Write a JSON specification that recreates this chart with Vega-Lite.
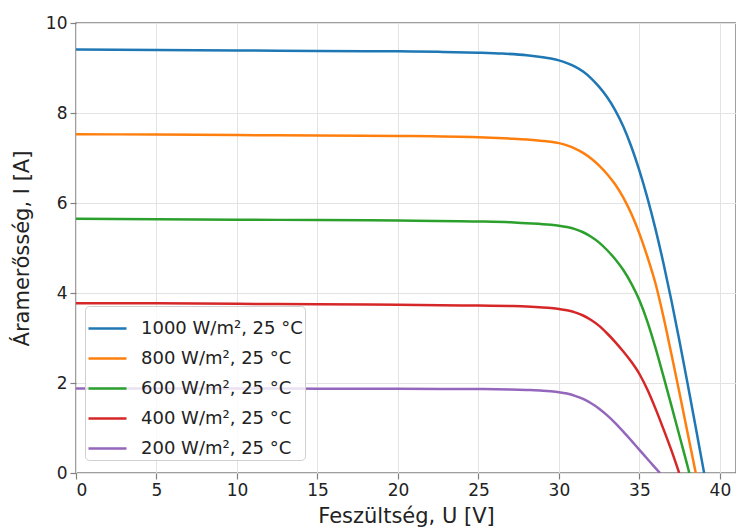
{
  "$schema": "https://vega.github.io/schema/vega-lite/v6.json",
  "width": 660,
  "height": 450,
  "autosize": "none",
  "padding": {"left": 76, "top": 23, "right": 0, "bottom": 58},
  "background": "white",
  "config": {
    "font": "DejaVu Sans",
    "view": {"stroke": "#808080", "strokeWidth": 1.5},
    "axis": {
      "domain": false,
      "grid": true,
      "gridColor": "#e3e3e3",
      "gridWidth": 1,
      "tickColor": "#808080",
      "tickSize": 6,
      "tickWidth": 1.2,
      "labelFont": "DejaVu Sans",
      "labelFontSize": 17,
      "labelColor": "#222222",
      "labelPadding": 3,
      "titleFont": "DejaVu Sans",
      "titleFontSize": 21,
      "titleFontWeight": "normal",
      "titleColor": "#222222"
    },
    "legend": {
      "fillColor": "rgba(255,255,255,0.8)",
      "strokeColor": "#d0d0d0",
      "cornerRadius": 4,
      "padding": 2,
      "labelFont": "DejaVu Sans",
      "labelFontSize": 18,
      "labelColor": "#222222",
      "labelLimit": 400
    }
  },
  "data": {
    "values": [
      {"s": "1000 W/m², 25 °C", "U": 0, "I": 9.41},
      {"s": "1000 W/m², 25 °C", "U": 5, "I": 9.40},
      {"s": "1000 W/m², 25 °C", "U": 10, "I": 9.39},
      {"s": "1000 W/m², 25 °C", "U": 15, "I": 9.38},
      {"s": "1000 W/m², 25 °C", "U": 20, "I": 9.37},
      {"s": "1000 W/m², 25 °C", "U": 22.5, "I": 9.36},
      {"s": "1000 W/m², 25 °C", "U": 25, "I": 9.34},
      {"s": "1000 W/m², 25 °C", "U": 26.5, "I": 9.32},
      {"s": "1000 W/m², 25 °C", "U": 28, "I": 9.285},
      {"s": "1000 W/m², 25 °C", "U": 29, "I": 9.24},
      {"s": "1000 W/m², 25 °C", "U": 29.5, "I": 9.21},
      {"s": "1000 W/m², 25 °C", "U": 30, "I": 9.17},
      {"s": "1000 W/m², 25 °C", "U": 30.5, "I": 9.11},
      {"s": "1000 W/m², 25 °C", "U": 31, "I": 9.03},
      {"s": "1000 W/m², 25 °C", "U": 31.5, "I": 8.92},
      {"s": "1000 W/m², 25 °C", "U": 32, "I": 8.77},
      {"s": "1000 W/m², 25 °C", "U": 32.5, "I": 8.58},
      {"s": "1000 W/m², 25 °C", "U": 33, "I": 8.35},
      {"s": "1000 W/m², 25 °C", "U": 33.5, "I": 8.06},
      {"s": "1000 W/m², 25 °C", "U": 34, "I": 7.70},
      {"s": "1000 W/m², 25 °C", "U": 34.5, "I": 7.25},
      {"s": "1000 W/m², 25 °C", "U": 35, "I": 6.72},
      {"s": "1000 W/m², 25 °C", "U": 35.5, "I": 6.11},
      {"s": "1000 W/m², 25 °C", "U": 36, "I": 5.42},
      {"s": "1000 W/m², 25 °C", "U": 36.5, "I": 4.65},
      {"s": "1000 W/m², 25 °C", "U": 37, "I": 3.81},
      {"s": "1000 W/m², 25 °C", "U": 37.5, "I": 2.91},
      {"s": "1000 W/m², 25 °C", "U": 38, "I": 1.97},
      {"s": "1000 W/m², 25 °C", "U": 38.5, "I": 1.01},
      {"s": "1000 W/m², 25 °C", "U": 39.02, "I": 0},

      {"s": "800 W/m², 25 °C", "U": 0, "I": 7.53},
      {"s": "800 W/m², 25 °C", "U": 5, "I": 7.52},
      {"s": "800 W/m², 25 °C", "U": 10, "I": 7.51},
      {"s": "800 W/m², 25 °C", "U": 15, "I": 7.50},
      {"s": "800 W/m², 25 °C", "U": 20, "I": 7.49},
      {"s": "800 W/m², 25 °C", "U": 25, "I": 7.46},
      {"s": "800 W/m², 25 °C", "U": 27, "I": 7.43},
      {"s": "800 W/m², 25 °C", "U": 28, "I": 7.41},
      {"s": "800 W/m², 25 °C", "U": 29, "I": 7.38},
      {"s": "800 W/m², 25 °C", "U": 29.5, "I": 7.36},
      {"s": "800 W/m², 25 °C", "U": 30, "I": 7.33},
      {"s": "800 W/m², 25 °C", "U": 30.5, "I": 7.28},
      {"s": "800 W/m², 25 °C", "U": 31, "I": 7.21},
      {"s": "800 W/m², 25 °C", "U": 31.5, "I": 7.115},
      {"s": "800 W/m², 25 °C", "U": 32, "I": 6.99},
      {"s": "800 W/m², 25 °C", "U": 32.5, "I": 6.83},
      {"s": "800 W/m², 25 °C", "U": 33, "I": 6.64},
      {"s": "800 W/m², 25 °C", "U": 33.5, "I": 6.41},
      {"s": "800 W/m², 25 °C", "U": 34, "I": 6.12},
      {"s": "800 W/m², 25 °C", "U": 34.5, "I": 5.76},
      {"s": "800 W/m², 25 °C", "U": 35, "I": 5.32},
      {"s": "800 W/m², 25 °C", "U": 35.5, "I": 4.80},
      {"s": "800 W/m², 25 °C", "U": 36, "I": 4.21},
      {"s": "800 W/m², 25 °C", "U": 36.5, "I": 3.46},
      {"s": "800 W/m², 25 °C", "U": 37, "I": 2.62},
      {"s": "800 W/m², 25 °C", "U": 37.5, "I": 1.76},
      {"s": "800 W/m², 25 °C", "U": 38, "I": 0.88},
      {"s": "800 W/m², 25 °C", "U": 38.5, "I": 0},

      {"s": "600 W/m², 25 °C", "U": 0, "I": 5.65},
      {"s": "600 W/m², 25 °C", "U": 5, "I": 5.64},
      {"s": "600 W/m², 25 °C", "U": 10, "I": 5.63},
      {"s": "600 W/m², 25 °C", "U": 15, "I": 5.62},
      {"s": "600 W/m², 25 °C", "U": 20, "I": 5.61},
      {"s": "600 W/m², 25 °C", "U": 25, "I": 5.59},
      {"s": "600 W/m², 25 °C", "U": 27, "I": 5.57},
      {"s": "600 W/m², 25 °C", "U": 28, "I": 5.55},
      {"s": "600 W/m², 25 °C", "U": 29, "I": 5.53},
      {"s": "600 W/m², 25 °C", "U": 29.5, "I": 5.515},
      {"s": "600 W/m², 25 °C", "U": 30, "I": 5.495},
      {"s": "600 W/m², 25 °C", "U": 30.5, "I": 5.465},
      {"s": "600 W/m², 25 °C", "U": 31, "I": 5.42},
      {"s": "600 W/m², 25 °C", "U": 31.5, "I": 5.35},
      {"s": "600 W/m², 25 °C", "U": 32, "I": 5.25},
      {"s": "600 W/m², 25 °C", "U": 32.5, "I": 5.12},
      {"s": "600 W/m², 25 °C", "U": 33, "I": 4.95},
      {"s": "600 W/m², 25 °C", "U": 33.5, "I": 4.75},
      {"s": "600 W/m², 25 °C", "U": 34, "I": 4.51},
      {"s": "600 W/m², 25 °C", "U": 34.5, "I": 4.21},
      {"s": "600 W/m², 25 °C", "U": 35, "I": 3.84},
      {"s": "600 W/m², 25 °C", "U": 35.5, "I": 3.36},
      {"s": "600 W/m², 25 °C", "U": 36, "I": 2.78},
      {"s": "600 W/m², 25 °C", "U": 36.5, "I": 2.14},
      {"s": "600 W/m², 25 °C", "U": 37, "I": 1.48},
      {"s": "600 W/m², 25 °C", "U": 37.5, "I": 0.81},
      {"s": "600 W/m², 25 °C", "U": 38, "I": 0.14},
      {"s": "600 W/m², 25 °C", "U": 38.1, "I": 0},

      {"s": "400 W/m², 25 °C", "U": 0, "I": 3.77},
      {"s": "400 W/m², 25 °C", "U": 5, "I": 3.77},
      {"s": "400 W/m², 25 °C", "U": 10, "I": 3.76},
      {"s": "400 W/m², 25 °C", "U": 15, "I": 3.75},
      {"s": "400 W/m², 25 °C", "U": 20, "I": 3.74},
      {"s": "400 W/m², 25 °C", "U": 25, "I": 3.72},
      {"s": "400 W/m², 25 °C", "U": 27, "I": 3.71},
      {"s": "400 W/m², 25 °C", "U": 28, "I": 3.70},
      {"s": "400 W/m², 25 °C", "U": 29, "I": 3.68},
      {"s": "400 W/m², 25 °C", "U": 29.5, "I": 3.665},
      {"s": "400 W/m², 25 °C", "U": 30, "I": 3.645},
      {"s": "400 W/m², 25 °C", "U": 30.5, "I": 3.615},
      {"s": "400 W/m², 25 °C", "U": 31, "I": 3.57},
      {"s": "400 W/m², 25 °C", "U": 31.5, "I": 3.50},
      {"s": "400 W/m², 25 °C", "U": 32, "I": 3.40},
      {"s": "400 W/m², 25 °C", "U": 32.5, "I": 3.27},
      {"s": "400 W/m², 25 °C", "U": 33, "I": 3.10},
      {"s": "400 W/m², 25 °C", "U": 33.5, "I": 2.91},
      {"s": "400 W/m², 25 °C", "U": 34, "I": 2.70},
      {"s": "400 W/m², 25 °C", "U": 34.5, "I": 2.47},
      {"s": "400 W/m², 25 °C", "U": 35, "I": 2.20},
      {"s": "400 W/m², 25 °C", "U": 35.5, "I": 1.85},
      {"s": "400 W/m², 25 °C", "U": 36, "I": 1.43},
      {"s": "400 W/m², 25 °C", "U": 36.5, "I": 0.97},
      {"s": "400 W/m², 25 °C", "U": 37, "I": 0.49},
      {"s": "400 W/m², 25 °C", "U": 37.47, "I": 0},

      {"s": "200 W/m², 25 °C", "U": 0, "I": 1.88},
      {"s": "200 W/m², 25 °C", "U": 5, "I": 1.88},
      {"s": "200 W/m², 25 °C", "U": 10, "I": 1.88},
      {"s": "200 W/m², 25 °C", "U": 15, "I": 1.875},
      {"s": "200 W/m², 25 °C", "U": 20, "I": 1.87},
      {"s": "200 W/m², 25 °C", "U": 25, "I": 1.865},
      {"s": "200 W/m², 25 °C", "U": 27, "I": 1.855},
      {"s": "200 W/m², 25 °C", "U": 28, "I": 1.845},
      {"s": "200 W/m², 25 °C", "U": 29, "I": 1.83},
      {"s": "200 W/m², 25 °C", "U": 29.5, "I": 1.815},
      {"s": "200 W/m², 25 °C", "U": 30, "I": 1.795},
      {"s": "200 W/m², 25 °C", "U": 30.5, "I": 1.765},
      {"s": "200 W/m², 25 °C", "U": 31, "I": 1.715},
      {"s": "200 W/m², 25 °C", "U": 31.5, "I": 1.645},
      {"s": "200 W/m², 25 °C", "U": 32, "I": 1.55},
      {"s": "200 W/m², 25 °C", "U": 32.5, "I": 1.43},
      {"s": "200 W/m², 25 °C", "U": 33, "I": 1.28},
      {"s": "200 W/m², 25 °C", "U": 33.5, "I": 1.11},
      {"s": "200 W/m², 25 °C", "U": 34, "I": 0.92},
      {"s": "200 W/m², 25 °C", "U": 34.5, "I": 0.72},
      {"s": "200 W/m², 25 °C", "U": 35, "I": 0.515},
      {"s": "200 W/m², 25 °C", "U": 35.5, "I": 0.31},
      {"s": "200 W/m², 25 °C", "U": 36, "I": 0.11},
      {"s": "200 W/m², 25 °C", "U": 36.28, "I": 0}
    ]
  },
  "mark": {"type": "line", "strokeWidth": 2.5, "interpolate": "monotone", "clip": true},
  "encoding": {
    "x": {
      "field": "U",
      "type": "quantitative",
      "scale": {"domain": [0, 41], "nice": false, "zero": false},
      "axis": {"values": [0, 5, 10, 15, 20, 25, 30, 35, 40], "title": "Feszültség, U [V]", "titlePadding": 7}
    },
    "y": {
      "field": "I",
      "type": "quantitative",
      "scale": {"domain": [0, 10], "nice": false},
      "axis": {"values": [0, 2, 4, 6, 8, 10], "title": "Áramerősség, I [A]", "titlePadding": 13}
    },
    "color": {
      "field": "s",
      "type": "nominal",
      "sort": ["1000 W/m², 25 °C", "800 W/m², 25 °C", "600 W/m², 25 °C", "400 W/m², 25 °C", "200 W/m², 25 °C"],
      "scale": {
        "domain": ["1000 W/m², 25 °C", "800 W/m², 25 °C", "600 W/m², 25 °C", "400 W/m², 25 °C", "200 W/m², 25 °C"],
        "range": ["#1f77b4", "#ff7f0e", "#2ca02c", "#d62728", "#9467bd"]
      },
      "legend": {
        "title": null,
        "orient": "none",
        "legendX": 9,
        "legendY": 283,
        "symbolType": "stroke",
        "symbolSize": 1444,
        "symbolStrokeWidth": 2.5,
        "labelOffset": 13,
        "rowPadding": 0
      }
    }
  }
}
